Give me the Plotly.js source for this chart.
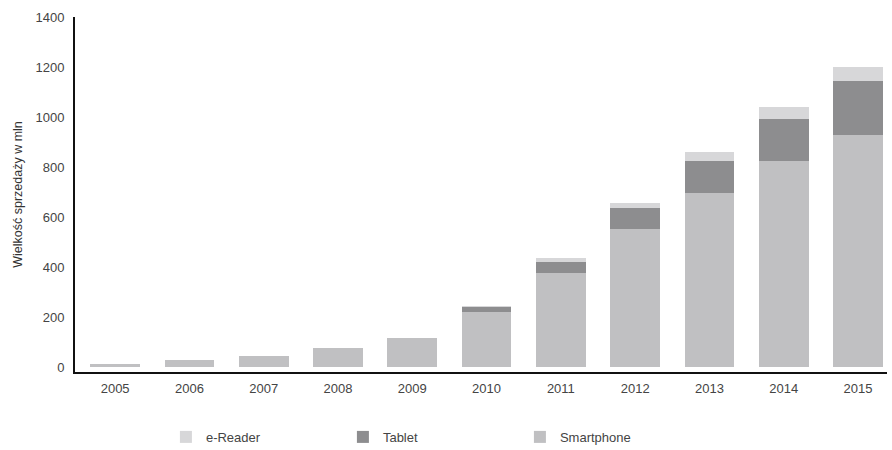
<!DOCTYPE html>
<html>
<head>
<meta charset="utf-8">
<script src="https://cdn.plot.ly/plotly-3.0.1.min.js"></script>
<style>html,body{margin:0;padding:0;background:#fff;}#chart{width:892px;height:450px;}</style>
</head>
<body>
<div id="chart"></div>
<script>
const years = ["2005","2006","2007","2008","2009","2010","2011","2012","2013","2014","2015"];
const smartphone = [12, 28, 44, 75, 115, 221, 375, 551, 697, 823, 927];
const tablet = [0, 0, 0, 0, 0, 18, 46, 85, 126, 170, 218];
const eReader = [0, 0, 0, 0, 0, 5, 14, 21, 37, 46, 56];
const yTicks = [0, 200, 400, 600, 800, 1000, 1200, 1400];

const common = {type: 'bar', x: years, width: 0.67, hoverinfo: 'y+name'};
const data = [
  Object.assign({}, common, {name: 'Smartphone', y: smartphone, marker: {color: '#c0c0c2'}}),
  Object.assign({}, common, {name: 'Tablet', y: tablet, marker: {color: '#8d8d8f'}}),
  Object.assign({}, common, {name: 'e-Reader', y: eReader, marker: {color: '#d7d7d9'}})
];

const layout = {
  width: 892, height: 450,
  margin: {l: 75, r: 5, t: 17, b: 78},
  paper_bgcolor: '#ffffff', plot_bgcolor: '#ffffff',
  barmode: 'stack',
  showlegend: true,
  font: {family: 'Liberation Sans, Arial, sans-serif', color: '#444', size: 13},
  xaxis: {
    type: 'category', range: [-0.54, 10.39],
    showline: true, linecolor: '#111', linewidth: 2,
    showgrid: false, zeroline: false, ticks: '',
    ticklabelstandoff: 3,
    tickfont: {size: 13, color: '#444'}
  },
  yaxis: {
    range: [-20, 1400], tickvals: yTicks,
    showline: true, linecolor: '#111', linewidth: 2,
    showgrid: false, zeroline: false, ticks: '',
    tickfont: {size: 13, color: '#444'},
    ticklabelstandoff: 6,
    title: {text: 'Wielkość sprzedaży w mln', font: {size: 12.5, color: '#333'}, standoff: 10}
  },
  legend: {
    orientation: 'h', traceorder: 'reversed',
    xref: 'container', yref: 'container',
    x: 0.186, xanchor: 'left', y: 0.029, yanchor: 'middle',
    entrywidth: 132, entrywidthmode: 'pixels',
    font: {size: 13, color: '#444'}, itemwidth: 30
  }
};

Plotly.newPlot('chart', data, layout, {displayModeBar: false, staticPlot: true});
</script>
</body>
</html>
